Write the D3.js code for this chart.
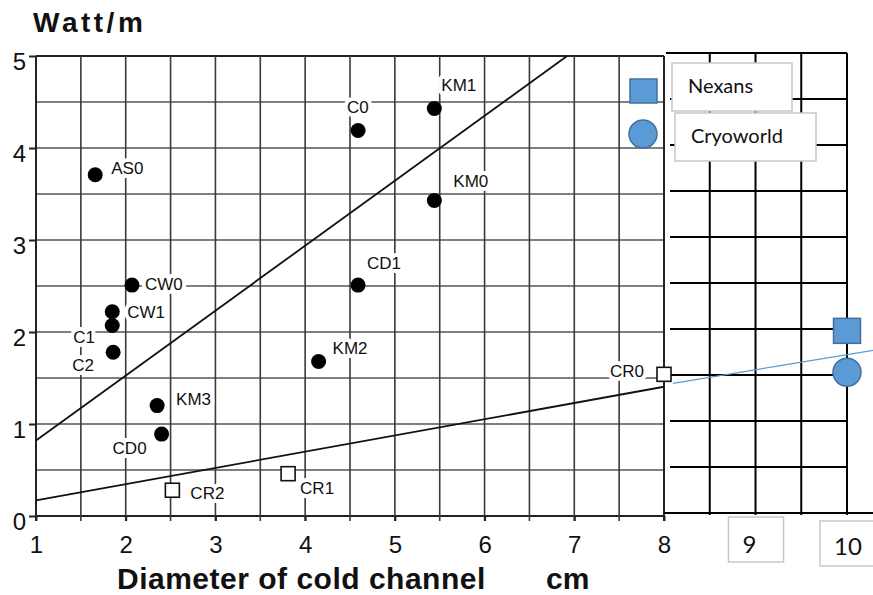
<!DOCTYPE html>
<html>
<head>
<meta charset="utf-8">
<script src="https://cdn.jsdelivr.net/npm/d3@7"></script>
<style>
  body { margin: 0; background: #fff; }
  svg { display: block; }
</style>
</head>
<body>
<div id="chart"></div>
<script>
var pointNames = ["AS0", "C0", "KM1", "KM0", "CD1", "CW0", "CW1", "C1", "C2", "KM2", "KM3", "CD0"];
var pointX = [1.66, 4.59, 5.44, 5.44, 4.59, 2.07, 1.85, 1.85, 1.86, 4.15, 2.35, 2.40];
var pointY = [3.71, 4.19, 4.43, 3.43, 2.51, 2.51, 2.22, 2.07, 1.78, 1.68, 1.20, 0.89];

// Open squares.
var squareNames = ["CR0", "CR1", "CR2"];
var squareX = [8.0, 3.81, 2.52];
var squareY = [1.54, 0.46, 0.28];

// Trend lines (end points in data units).
var upperFit = [[1, 0.82], [6.92, 5]];
var lowerFit = [[1, 0.17], [8, 1.405]];
var blueFit = [[8.1, 1.41], [10.3, 1.77]];

// Added series on the extended grid, at 10 cm.
var seriesNames = ["Nexans", "Cryoworld"];
var seriesX = [10, 10];
var seriesY = [1.98, 1.53];

var xTicks = [1, 2, 3, 4, 5, 6, 7, 8];
var xExtTicks = [9, 10];
var yTicks = [0, 1, 2, 3, 4, 5];

// Label placement next to each marker (px, left edge / baseline).
var labelOffset = {
  AS0: [16, -1], C0: [-11, -18], KM1: [7, -17], KM0: [19, -13], CD1: [9, -16],
  CW0: [13, 5], CW1: [15, 6], C1: [-39, 17], C2: [-41, 19], KM2: [14, -7],
  KM3: [19, -1], CD0: [-49, 20], CR0: [-54, 3], CR1: [12, 20], CR2: [18, 9]
};

var width = 873, height = 595;
var blue = "#5B9BD5", blueEdge = "#41719C";

var svg = d3.select("#chart").append("svg")
    .attr("width", width)
    .attr("height", height);

// Scanned part runs 1..8, the pasted extension 8..10 is a little wider.
var x = d3.scaleLinear().domain([1, 8, 10]).range([36, 664, 847]);
var y = d3.scaleLinear().domain([0, 5]).range([516, 56]);
// The extension grid sits a few px higher than the scan.
var yR = d3.scaleLinear().domain([0, 5]).range([513, 53]);

var halves = d3.range(0, 5.01, 0.5);
var xHalves = d3.range(1, 8.01, 0.5);
var xExtHalves = [8.5, 9, 9.5];

// --- scanned grid
var grid = svg.append("g");
grid.selectAll(".h").data(halves).enter().append("line")
    .attr("x1", x(1)).attr("x2", x(8))
    .attr("y1", function(d) { return y(d); })
    .attr("y2", function(d) { return y(d); })
    .attr("stroke", function(d) { return (d == 0 || d == 5) ? "#222" : "#555"; })
    .attr("stroke-width", function(d) { return (d == 0 || d == 5) ? 2 : 1.6; });
grid.selectAll(".v").data(xHalves).enter().append("line")
    .attr("x1", function(d) { return x(d); })
    .attr("x2", function(d) { return x(d); })
    .attr("y1", y(5))
    .attr("y2", y(0) + 5)
    .attr("stroke", function(d) { return (d == 1 || d == 8) ? "#222" : "#3a3a3a"; })
    .attr("stroke-width", function(d) { return (d == 1 || d == 8) ? 2 : 1.6; });

// --- extension grid (crisp black)
var ext = svg.append("g").attr("stroke", "#000").attr("stroke-width", 2);
ext.selectAll(".h").data(halves.filter(function(d) { return d > 0; })).enter().append("line")
    .attr("x1", function(d) { return d == 5 ? x(8) + 2 : x(8) + 6; })
    .attr("x2", x(10))
    .attr("y1", function(d) { return yR(d); })
    .attr("y2", function(d) { return yR(d); });
ext.append("line")
    .attr("x1", x(8)).attr("x2", width)
    .attr("y1", yR(0)).attr("y2", yR(0));
ext.selectAll(".v").data(xExtHalves.concat([10])).enter().append("line")
    .attr("x1", function(d) { return x(d); })
    .attr("x2", function(d) { return x(d); })
    .attr("y1", yR(5))
    .attr("y2", yR(0) + 2);

// --- axes
var fontScan = "'Liberation Sans', Arial, sans-serif";
var fontOffice = "Lato, 'Open Sans', sans-serif";

var yAxis = svg.append("g")
    .attr("transform", "translate(" + x(1) + ",0)")
    .call(d3.axisLeft(y).tickValues(yTicks).tickSize(7).tickPadding(3).tickFormat(d3.format("d")));
var xAxis = svg.append("g")
    .attr("transform", "translate(0," + y(0) + ")")
    .call(d3.axisBottom(x).tickValues(xTicks).tickSize(5).tickPadding(15).tickFormat(d3.format("d")));
[yAxis, xAxis].forEach(function(a) {
  a.select(".domain").remove();
  a.selectAll(".tick line").attr("stroke", "#222").attr("stroke-width", 2);
  a.selectAll("text")
      .attr("fill", "#111")
      .style("font-family", fontScan)
      .style("font-size", "24px");
});
yAxis.selectAll("text").attr("dy", "0.56em");

// Boxed labels for 9 and 10 on the extension
var extBoxes = svg.selectAll(".extTick").data(xExtTicks).enter().append("g")
    .attr("transform", function(d) { return "translate(" + x(d) + ",0)"; });
extBoxes.append("rect")
    .attr("x", -27)
    .attr("y", function(d) { return d == 9 ? 517 : 521; })
    .attr("width", function(d) { return d == 9 ? 55 : 60; })
    .attr("height", 45)
    .attr("fill", "#fff")
    .attr("stroke", "#c8c8c8")
    .attr("stroke-width", 1.5);
extBoxes.append("text")
    .attr("x", function(d) { return d == 9 ? -6 : 1; })
    .attr("y", function(d) { return d == 9 ? 553 : 555; })
    .attr("text-anchor", "middle")
    .style("font-family", fontOffice)
    .style("font-size", "24px")
    .attr("fill", "#111")
    .text(function(d) { return d; });

// --- point labels, with a white halo that breaks the grid like the scan
var allNames = pointNames.concat(squareNames);
var allX = pointX.concat(squareX);
var allY = pointY.concat(squareY);
svg.append("g").selectAll("text").data(allNames).enter().append("text")
    .attr("x", function(d, i) { return x(allX[i]) + labelOffset[d][0]; })
    .attr("y", function(d, i) { return y(allY[i]) + labelOffset[d][1]; })
    .style("font-family", fontScan)
    .style("font-size", "17px")
    .attr("fill", "#111")
    .attr("stroke", "#fff")
    .attr("stroke-width", 8)
    .attr("stroke-linejoin", "round")
    .style("paint-order", "stroke")
    .text(function(d) { return d; });

// --- trend lines
var line = d3.line()
    .x(function(d) { return x(d[0]); })
    .y(function(d) { return y(d[1]); });
var lineR = d3.line()
    .x(function(d) { return x(d[0]); })
    .y(function(d) { return yR(d[1]); });
svg.append("path").attr("d", line(upperFit))
    .attr("fill", "none").attr("stroke", "#111").attr("stroke-width", 1.8);
svg.append("path").attr("d", line(lowerFit))
    .attr("fill", "none").attr("stroke", "#111").attr("stroke-width", 1.8);
svg.append("path").attr("d", lineR(blueFit))
    .attr("fill", "none").attr("stroke", blue).attr("stroke-width", 1.3);

// --- markers
svg.append("g").selectAll("circle").data(pointNames).enter().append("circle")
    .attr("cx", function(d, i) { return x(pointX[i]); })
    .attr("cy", function(d, i) { return y(pointY[i]); })
    .attr("r", 7.5)
    .attr("fill", "#000");
svg.append("g").selectAll("rect").data(squareNames).enter().append("rect")
    .attr("x", function(d, i) { return x(squareX[i]) - 7; })
    .attr("y", function(d, i) { return y(squareY[i]) - 7; })
    .attr("width", 14)
    .attr("height", 14)
    .attr("fill", "#fff")
    .attr("stroke", "#111")
    .attr("stroke-width", 1.6);

// Nexans = square, Cryoworld = circle
svg.append("rect")
    .attr("x", x(seriesX[0]) - 13.5)
    .attr("y", yR(seriesY[0]) - 12.5)
    .attr("width", 27).attr("height", 25)
    .attr("fill", blue).attr("stroke", blueEdge).attr("stroke-width", 1.5);
svg.append("circle")
    .attr("cx", x(seriesX[1]))
    .attr("cy", yR(seriesY[1]))
    .attr("r", 14)
    .attr("fill", blue).attr("stroke", blueEdge).attr("stroke-width", 1.5);

// --- legend
var legend = svg.append("g");
legend.append("rect")
    .attr("x", 630).attr("y", 79).attr("width", 27).attr("height", 24)
    .attr("fill", blue).attr("stroke", blueEdge).attr("stroke-width", 1.5);
legend.append("circle")
    .attr("cx", 643).attr("cy", 134).attr("r", 14)
    .attr("fill", blue).attr("stroke", blueEdge).attr("stroke-width", 1.5);
var legendBoxes = [[672, 63, 120, 48], [675, 113, 141, 48]];
legend.selectAll(".lb").data(seriesNames).enter().append("rect")
    .attr("x", function(d, i) { return legendBoxes[i][0]; })
    .attr("y", function(d, i) { return legendBoxes[i][1]; })
    .attr("width", function(d, i) { return legendBoxes[i][2]; })
    .attr("height", function(d, i) { return legendBoxes[i][3]; })
    .attr("fill", "#fff")
    .attr("stroke", "#c8c8c8")
    .attr("stroke-width", 1.5);
legend.selectAll(".lt").data(seriesNames).enter().append("text")
    .attr("x", function(d, i) { return legendBoxes[i][0] + 16; })
    .attr("y", function(d, i) { return legendBoxes[i][1] + 30; })
    .style("font-family", fontOffice)
    .style("font-size", "20px")
    .attr("fill", "#111")
    .text(function(d) { return d; });

// --- titles
svg.append("text")
    .attr("x", 33).attr("y", 32)
    .style("font-family", fontScan)
    .style("font-weight", "bold")
    .style("font-size", "28px")
    .style("letter-spacing", "3.5px")
    .attr("fill", "#111")
    .text("Watt/m");
svg.append("text")
    .attr("x", 117).attr("y", 589)
    .style("font-family", fontScan)
    .style("font-weight", "bold")
    .style("font-size", "30px")
    .style("letter-spacing", "0.5px")
    .attr("fill", "#111")
    .text("Diameter of cold channel");
svg.append("text")
    .attr("x", 546).attr("y", 589)
    .style("font-family", fontScan)
    .style("font-weight", "bold")
    .style("font-size", "30px")
    .attr("fill", "#111")
    .text("cm");
</script>
</body>
</html>
